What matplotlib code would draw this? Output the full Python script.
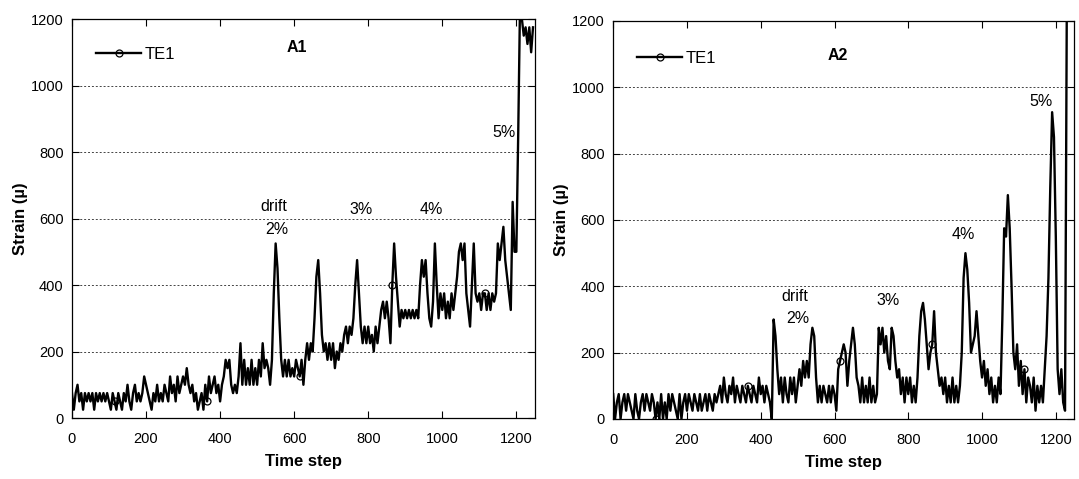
import matplotlib
matplotlib.use("Agg")
import matplotlib.pyplot as plt
import numpy as np

plt.rcParams['font.family'] = ['Liberation Sans', 'DejaVu Sans']

# time axis sampled every 5 steps
time_step = np.arange(0, 1250, 5)

# gauge TE1, specimen A1 (strain in micro-strain)
a1_strain = [
    75, 25, 75, 100, 50, 75, 25, 75, 50, 75, 50, 75, 25, 75, 50, 75, 50, 75, 50, 75,
    50, 25, 75, 50, 25, 75, 50, 25, 75, 50, 100, 50, 25, 75, 100, 50, 75, 50, 75, 125,
    100, 75, 50, 25, 75, 50, 100, 50, 75, 50, 100, 75, 50, 125, 75, 100, 50, 125, 75, 100,
    125, 100, 150, 100, 75, 100, 50, 75, 25, 50, 75, 25, 100, 50, 125, 75, 100, 125, 75, 100,
    50, 100, 125, 175, 150, 175, 100, 75, 100, 75, 125, 225, 100, 175, 100, 150, 100, 175, 100, 150,
    100, 175, 125, 225, 150, 175, 150, 100, 175, 375, 525, 450, 300, 175, 125, 175, 125, 175, 125, 150,
    125, 175, 150, 125, 175, 100, 175, 225, 175, 225, 200, 300, 425, 475, 375, 250, 200, 225, 175, 225,
    175, 225, 150, 200, 175, 225, 200, 250, 275, 225, 275, 250, 300, 400, 475, 375, 275, 225, 275, 225,
    275, 225, 250, 200, 275, 225, 275, 325, 350, 300, 350, 300, 225, 400, 525, 425, 350, 275, 325, 300,
    325, 300, 325, 300, 325, 300, 325, 300, 400, 475, 425, 475, 375, 300, 275, 350, 525, 400, 300, 375,
    325, 375, 300, 350, 300, 375, 325, 375, 425, 500, 525, 475, 525, 375, 325, 275, 400, 525, 375, 350,
    375, 325, 375, 375, 325, 375, 325, 375, 350, 375, 525, 475, 525, 575, 475, 425, 375, 325, 650, 500,
    500, 850, 1250, 1200, 1150, 1175, 1125, 1175, 1100, 1175,
]

# gauge TE1, specimen A2
a2_strain = [
    75, 0, 50, 75, 0, 50, 75, 25, 75, 50, 25, 0, 75, 25, 0, 50, 75, 25, 75, 50,
    25, 75, 50, 0, 50, 0, 75, 0, 50, 0, 75, 25, 75, 50, 25, 0, 75, 0, 50, 75,
    25, 75, 50, 25, 75, 50, 25, 75, 25, 50, 75, 25, 75, 50, 25, 75, 50, 75, 100, 50,
    125, 75, 50, 100, 75, 125, 50, 100, 75, 50, 100, 75, 50, 100, 75, 50, 100, 75, 50, 125,
    75, 100, 50, 100, 75, 50, 0, 300, 250, 150, 75, 125, 50, 125, 75, 50, 125, 75, 125, 50,
    100, 150, 100, 175, 125, 175, 125, 225, 275, 250, 125, 50, 100, 50, 100, 75, 50, 100, 50, 100,
    75, 25, 150, 175, 200, 225, 200, 100, 175, 225, 275, 225, 125, 100, 50, 125, 50, 100, 50, 125,
    50, 100, 50, 75, 275, 225, 275, 200, 250, 175, 150, 275, 250, 175, 125, 150, 75, 125, 50, 125,
    75, 125, 50, 100, 50, 125, 250, 325, 350, 300, 225, 150, 200, 225, 325, 200, 150, 100, 125, 75,
    125, 50, 100, 50, 125, 50, 100, 50, 100, 200, 425, 500, 450, 350, 200, 225, 250, 325, 250, 175,
    125, 175, 100, 150, 75, 125, 50, 100, 50, 125, 75, 300, 575, 550, 675, 575, 400, 200, 150, 225,
    100, 175, 75, 150, 50, 125, 100, 50, 125, 25, 100, 50, 100, 50, 150, 250, 425, 700, 925, 850,
    550, 150, 75, 150, 50, 25, 1300, 1300, 1300, 1300,
]

# drift level labels: (text, x, y)
a1_notes = [("drift", 545, 635), ("2%", 552, 568), ("3%", 780, 628),
            ("4%", 970, 628), ("5%", 1168, 858)]
a2_notes = [("drift", 492, 368), ("2%", 500, 302), ("3%", 746, 356),
            ("4%", 950, 557), ("5%", 1160, 958)]

panels = [
    ("A1", a1_strain, a1_notes, [0.0667, 0.1273, 0.429, 0.833], 1115, 0.967),
    ("A2", a2_strain, a2_notes, [0.5683, 0.1253, 0.4273, 0.8309], 1097, 0.962),
]

fig = plt.figure(figsize=(10.79, 4.79), dpi=100)

for name, strain, notes, rect, title_y, leg_y in panels:
    ax = fig.add_axes(rect)
    ax.plot(time_step, strain, color='black', lw=1.7, marker='o', ms=5,
            mfc='none', mec='black', mew=0.9, markevery=(23, 50), label='TE1')
    ax.set_xlim(0, 1250)
    ax.set_ylim(0, 1200)
    ax.set_xticks(range(0, 1201, 200))
    ax.set_yticks(range(0, 1201, 200))
    ax.yaxis.grid(True, linestyle=(0, (2, 2)), color='#444444', lw=0.7)
    ax.tick_params(direction='in', top=True, right=True, length=5, width=0.8,
                   labelsize=10.5)
    ax.tick_params(axis='x', pad=10)
    ax.tick_params(axis='y', pad=6)
    for sp in ax.spines.values():
        sp.set_linewidth(0.9)
    ax.set_xlabel('Time step', fontsize=12, fontweight='bold', labelpad=6)
    ax.set_ylabel('Strain (µ)', fontsize=12, fontweight='bold', labelpad=2)
    ax.text(608, title_y, name, fontsize=11.5, fontweight='bold',
            ha='center', va='center')
    for txt, x, y in notes:
        ax.text(x, y, txt, fontsize=11.5, ha='center', va='center')
    leg = ax.legend(loc='upper left', bbox_to_anchor=(0.02, leg_y), frameon=False,
                    fontsize=12, handlelength=2.7, handletextpad=0.2)
    for h in leg.legend_handles:
        h.set_linewidth(1.7)

fig.savefig('out.png', dpi=100)
